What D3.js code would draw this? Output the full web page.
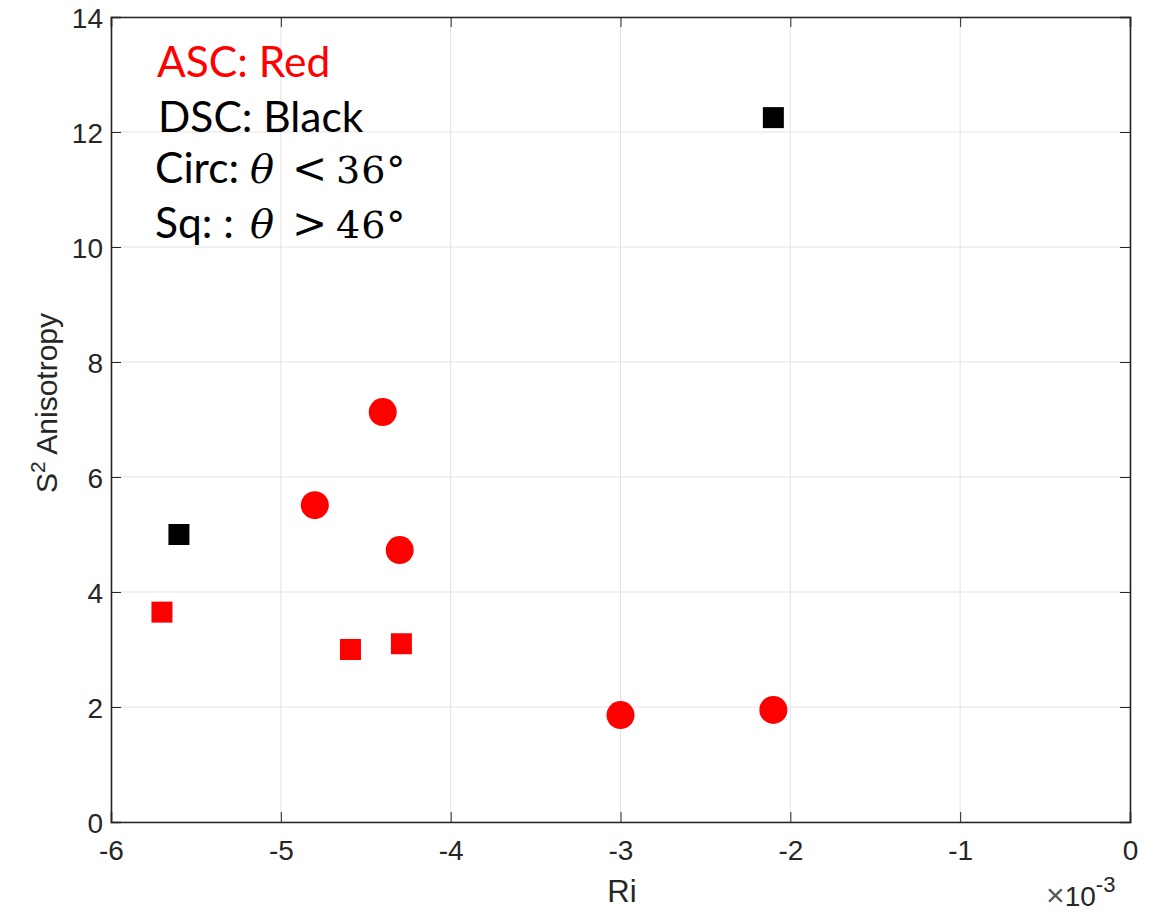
<!DOCTYPE html>
<html><head><meta charset="utf-8">
<script src="https://cdn.jsdelivr.net/npm/d3@7"></script>
<style>body{margin:0;background:#fff}svg{display:block}</style>
</head><body>
<svg id="c" width="1158" height="915"></svg>
<script>
const xTicks = [-6,-5,-4,-3,-2,-1,0];
const yTicks = [0,2,4,6,8,10,12,14];
// Ri (x10^-3), S^2 anisotropy, group, shape
const riValues   = [-5.6, -2.1, -5.7, -4.59, -4.29, -4.4, -4.8, -4.3, -3.0, -2.1];
const anisValues = [5.0, 12.25, 3.65, 3.0, 3.1, 7.13, 5.51, 4.73, 1.86, 1.95];
const groups     = ["DSC","DSC","ASC","ASC","ASC","ASC","ASC","ASC","ASC","ASC"];
const shapes     = ["sq","sq","sq","sq","sq","circ","circ","circ","circ","circ"];
const colorOf = {ASC:"#ff0000", DSC:"#000000"};

const svg = d3.select("#c");
const L=111, R=1130, T=17, B=822;
const x = d3.scaleLinear().domain([-6,0]).range([L,R]);
const y = d3.scaleLinear().domain([0,14]).range([B,T]);
const axisCol = "#262626";
const fAxis = "'Liberation Sans', Arial, sans-serif";

// grid
svg.append("g").selectAll("line").data(xTicks).join("line")
  .attr("x1",d=>x(d)).attr("x2",d=>x(d)).attr("y1",T).attr("y2",B)
  .attr("stroke","#e3e3e3").attr("stroke-width",1);
svg.append("g").selectAll("line").data(yTicks).join("line")
  .attr("y1",d=>y(d)).attr("y2",d=>y(d)).attr("x1",L).attr("x2",R)
  .attr("stroke","#e3e3e3").attr("stroke-width",1);

// axes
const fmt = d => String(d);
const xa = svg.append("g").attr("transform",`translate(0,${B})`)
  .call(d3.axisBottom(x).tickValues(xTicks).tickSize(-10).tickPadding(28).tickFormat(fmt));
const xaTop = svg.append("g").attr("transform",`translate(0,${T})`)
  .call(d3.axisTop(x).tickValues(xTicks).tickSize(-10).tickFormat(""));
const ya = svg.append("g").attr("transform",`translate(${L},0)`)
  .call(d3.axisLeft(y).tickValues(yTicks).tickSize(-10).tickPadding(8).tickFormat(fmt));
const yaR = svg.append("g").attr("transform",`translate(${R},0)`)
  .call(d3.axisRight(y).tickValues(yTicks).tickSize(-10).tickFormat(""));
[xa,xaTop,ya,yaR].forEach(g=>{
  g.selectAll("path").attr("stroke",axisCol).attr("stroke-width",1.6);
  g.selectAll("line").attr("stroke",axisCol).attr("stroke-width",1);
  g.selectAll("text").attr("fill",axisCol).style("font-family",fAxis).style("font-size","28px");
});
xa.selectAll("text").attr("dy","0.35em");
ya.selectAll("text").attr("dy","0.36em");

// labels
svg.append("text").attr("x",622).attr("y",902).attr("text-anchor","middle")
  .attr("fill",axisCol).style("font-family",fAxis).style("font-size","31px").text("Ri");
const yl = svg.append("text").attr("transform",`translate(57,403) rotate(-90)`).attr("text-anchor","middle")
  .attr("fill",axisCol).style("font-family",fAxis).style("font-size","30px");
yl.append("tspan").text("S");
yl.append("tspan").attr("dy",-12).style("font-size","21px").text("2");
yl.append("tspan").attr("dy",12).text(" Anisotropy");
const ex = svg.append("text").attr("x",1046).attr("y",906)
  .attr("fill",axisCol).style("font-family",fAxis).style("font-size","28px");
ex.append("tspan").attr("fill","#555").style("font-size","32px").text("×");
ex.append("tspan").text("10");
ex.append("tspan").attr("dy",-14).style("font-size","22px").text("-3");

// points
const pts = riValues.map((v,i)=>({x:v,y:anisValues[i],g:groups[i],s:shapes[i]}));
const sq = 21;
svg.append("g").selectAll("rect").data(pts.filter(p=>p.s==="sq")).join("rect")
  .attr("x",d=>x(d.x)-sq/2).attr("y",d=>y(d.y)-sq/2).attr("width",sq).attr("height",sq)
  .attr("fill",d=>colorOf[d.g]);
svg.append("g").selectAll("circle").data(pts.filter(p=>p.s==="circ")).join("circle")
  .attr("cx",d=>x(d.x)).attr("cy",d=>y(d.y)).attr("r",14)
  .attr("fill",d=>colorOf[d.g]);

// annotation
const fSans = "Lato, 'Open Sans', sans-serif";
const fMath = "'DejaVu Serif', 'Liberation Serif', serif";
const sansSize = "42.5px", mathSize = "38px";
svg.append("text").attr("x",157).attr("y",77).attr("fill","#ff0000")
  .style("font-family",fSans).style("font-size",sansSize).text("ASC: Red");
svg.append("text").attr("x",158).attr("y",132).attr("fill","#000")
  .style("font-family",fSans).style("font-size",sansSize).text("DSC: Black");
function mathLine(yb, lead, rel, num){
  const t = svg.append("text").attr("y",yb).attr("fill","#000");
  t.append("tspan").attr("x",155).style("font-family",fSans).style("font-size",sansSize).text(lead);
  t.append("tspan").attr("x",250).style("font-family",fMath).style("font-style","italic").style("font-size","40px").text("θ");
  t.append("tspan").attr("x",292).style("font-family",fMath).style("font-size","42px").text(rel);
  t.append("tspan").attr("x",336).style("font-family",fMath).style("font-size",mathSize).attr("letter-spacing","1px").text(num);
}
mathLine(183, "Circ:", "<", "36°");
mathLine(238, "Sq: :", ">", "46°");
</script>
</body></html>
